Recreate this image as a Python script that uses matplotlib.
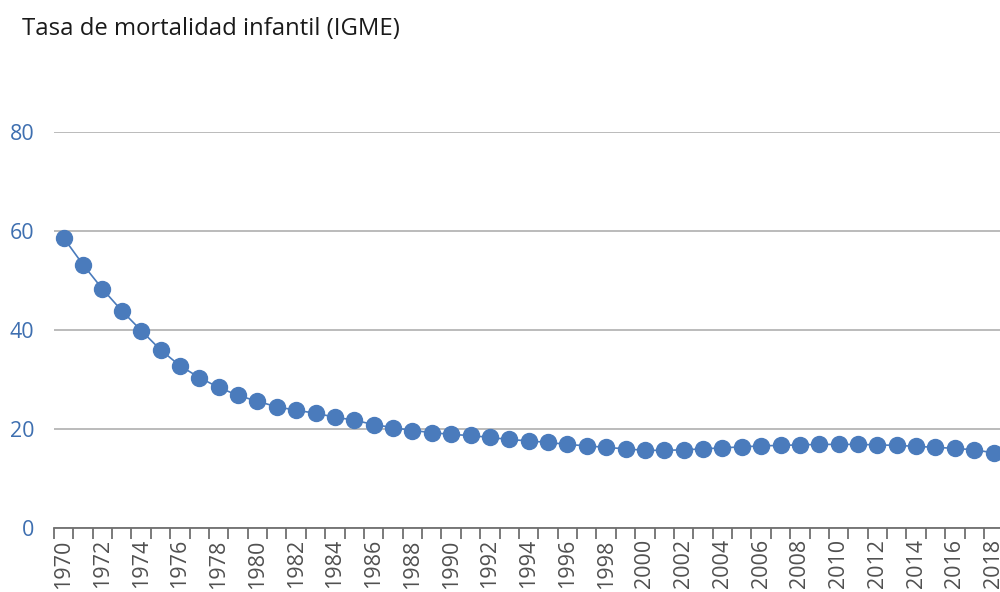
import matplotlib.pyplot as plt
from matplotlib.ticker import FixedLocator

years = list(range(1970, 2019))
rate = [58.6, 53.2, 48.3, 43.9, 39.9, 36.0, 32.8, 30.4, 28.4, 26.8,
        25.6, 24.5, 23.8, 23.2, 22.4, 21.8, 20.9, 20.3, 19.7, 19.3,
        18.9, 18.7, 18.3, 17.9, 17.6, 17.3, 16.9, 16.6, 16.3, 16.0,
        15.7, 15.7, 15.8, 16.0, 16.2, 16.4, 16.6, 16.7, 16.8, 16.9,
        16.9, 16.9, 16.8, 16.7, 16.5, 16.3, 16.1, 15.8, 15.2]
yticks = [0, 20, 40, 60, 80]

plt.rcParams['font.family'] = ['Open Sans', 'DejaVu Sans']

fig = plt.figure(figsize=(10, 5.92), dpi=100)
ax = fig.add_axes([0.054, 0.108, 0.946, 0.669])

x = list(range(len(years)))
ax.plot(x, rate, color='#4A7BBC', lw=1.2, marker='o', ms=11.5,
        markerfacecolor='#4A7BBC', markeredgecolor='#4A7BBC', zorder=3)

ax.set_xlim(-0.5, 48.33)
ax.set_ylim(0, 80)

ax.set_yticks(yticks)
ax.yaxis.grid(True, color='#BBBBBB', lw=1.4)
ax.set_axisbelow(True)
ax.tick_params(axis='y', length=0, labelsize=15.5, labelcolor='#3E6FB0', pad=14)

ax.set_xticks(x[::2])
ax.set_xticklabels([str(y) for y in years[::2]], rotation=90)
ax.xaxis.set_minor_locator(FixedLocator([i - 0.5 for i in range(len(years) + 1)]))
ax.tick_params(axis='x', which='major', length=0, labelsize=15.5, labelcolor='#505050', pad=8)
ax.tick_params(axis='x', which='minor', length=8, width=1.3, color='#707070')

for s in ['top', 'right', 'left']:
    ax.spines[s].set_visible(False)
ax.spines['bottom'].set_color('#707070')
ax.spines['bottom'].set_linewidth(1.3)

fig.text(0.022, 0.951, 'Tasa de mortalidad infantil (IGME)', fontsize=17.2,
         color='#1A1A1A', ha='left', va='center')

fig.savefig('out.png', dpi=100)
